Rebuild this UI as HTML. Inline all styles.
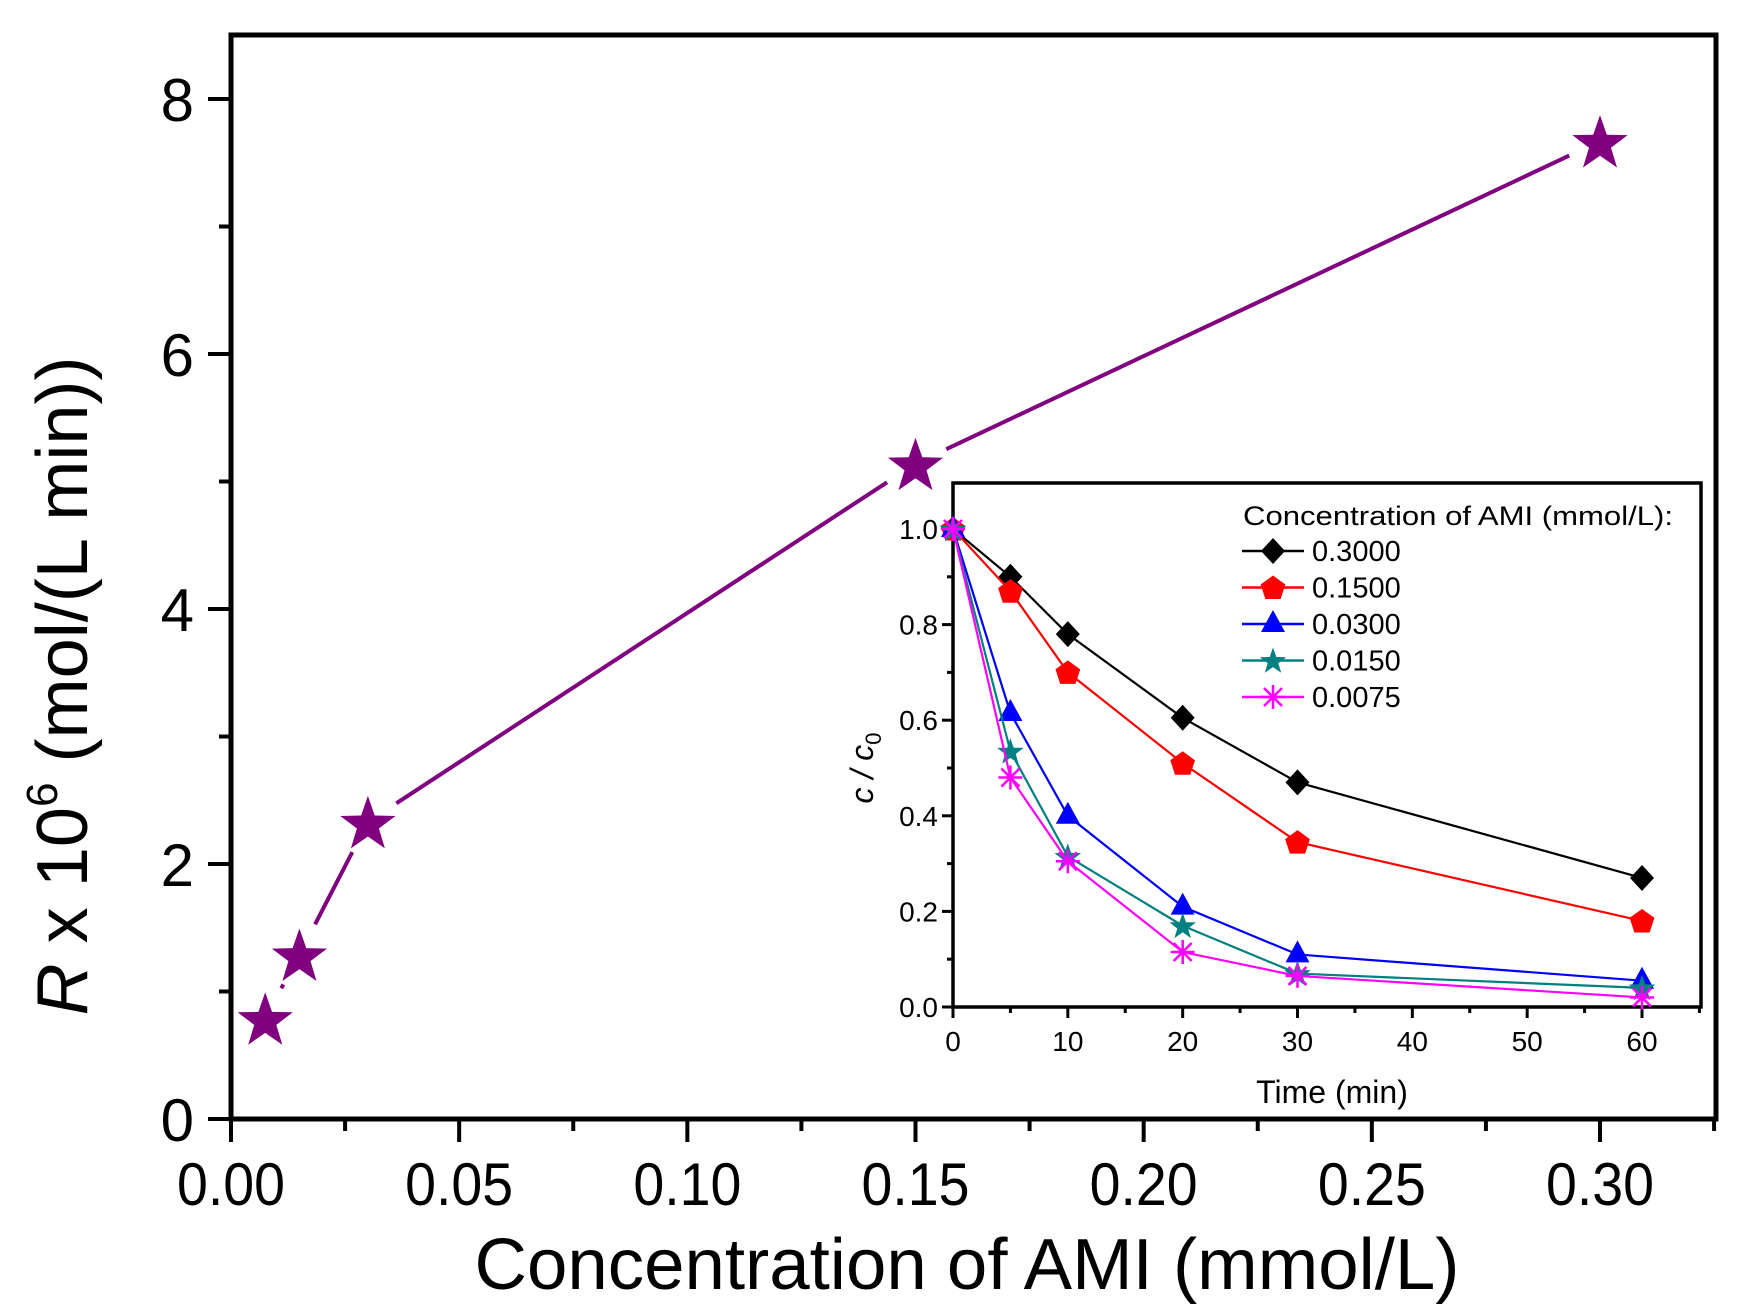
<!DOCTYPE html>
<html><head><meta charset="utf-8"><style>
html,body{margin:0;padding:0;background:#fff;}
svg{display:block;font-family:"Liberation Sans",Arial,sans-serif;}
</style></head><body>
<svg id="chart" width="1751" height="1313" viewBox="0 0 1751 1313" xmlns="http://www.w3.org/2000/svg">
<rect width="1751" height="1313" fill="#fff"/>
<g id="main"></g>
<g id="inset"></g>
</svg>
<script>
// main chart data
const mainX = [0.0075, 0.015, 0.03, 0.15, 0.30];
const mainY = [0.79, 1.29, 2.33, 5.14, 7.67];
const mainXTicks = ["0.00","0.05","0.10","0.15","0.20","0.25","0.30"];
const mainYTicks = ["0","2","4","6","8"];
// inset data
const insetT = [0, 5, 10, 20, 30, 60];
const seriesNames = ["0.3000","0.1500","0.0300","0.0150","0.0075"];
const s3000 = [1.0, 0.90, 0.78, 0.605, 0.47, 0.27];
const s1500 = [1.0, 0.87, 0.70, 0.51, 0.345, 0.18];
const s0300 = [1.0, 0.615, 0.40, 0.21, 0.11, 0.055];
const s0150 = [1.0, 0.535, 0.315, 0.17, 0.07, 0.04];
const s0075 = [1.0, 0.48, 0.305, 0.115, 0.065, 0.02];
const insetXTicks = ["0","10","20","30","40","50","60"];
const insetYTicks = ["0.0","0.2","0.4","0.6","0.8","1.0"];

const NS="http://www.w3.org/2000/svg";
function mk(parent, tag, attrs, text){
  const e=document.createElementNS(NS,tag);
  for(const k in attrs) e.setAttribute(k,attrs[k]);
  if(text!==undefined) e.textContent=text;
  parent.appendChild(e); return e;
}
function starPts(cx,cy,R){
  const r=R*0.4; let p=[];
  for(let i=0;i<10;i++){const a=-Math.PI/2+i*Math.PI/5;const rr=i%2?r:R;p.push((cx+rr*Math.cos(a)).toFixed(1)+","+(cy+rr*Math.sin(a)).toFixed(1));}
  return p.join(" ");
}

// ---------- main ----------
const M=document.getElementById('main');
const L=231,R=1716,T=35,B=1119;
const xS=v=>L+v*(1369/0.30);
const yS=v=>B-v*127.5;
for(let i=0;i<=13;i++){
  const v=i*0.025, x=xS(v); if(x>R) break;
  const t=mk(M,'line',{x1:x,y1:B,x2:x,y2:B+(i%2?12:23),stroke:'#000','stroke-width':4});
  
  
}
mainXTicks.forEach((s,i)=>{
  const t=mk(M,'text',{x:xS(i*0.05),y:1205,'font-size':60,'text-anchor':'middle',textLength:108,lengthAdjust:'spacingAndGlyphs'},s);
  
  
});
for(let v=0;v<=8;v++){
  const y=yS(v);
  const t=mk(M,'line',{x1:L,y1:y,x2:L-(v%2?12:23),y2:y,stroke:'#000','stroke-width':4});
  
  
}
mainYTicks.forEach((s,i)=>{
  const t=mk(M,'text',{x:194,y:yS(i*2)+22,'font-size':60,'text-anchor':'end'},s);
  
  
});
const fr=mk(M,'rect',{x:L,y:T,width:R-L,height:B-T,fill:'none',stroke:'#000','stroke-width':5});


for(let i=0;i<mainX.length-1;i++){
  const x1=xS(mainX[i]),y1=yS(mainY[i]),x2=xS(mainX[i+1]),y2=yS(mainY[i+1]);
  const d=Math.hypot(x2-x1,y2-y1),g=34;
  if(d<2*g) continue;
  const ux=(x2-x1)/d,uy=(y2-y1)/d;
  const s=mk(M,'line',{x1:x1+ux*g,y1:y1+uy*g,x2:x2-ux*g,y2:y2-uy*g,stroke:'#800080','stroke-width':4});
  
  
}
mainX.forEach((v,i)=>{
  const p=mk(M,'polygon',{points:starPts(xS(v),yS(mainY[i])+3,29),fill:'#800080'});
  
  
});
const xt=mk(M,'text',{x:967,y:1289,'font-size':72,'text-anchor':'middle',textLength:985,lengthAdjust:'spacingAndGlyphs'},'Concentration of AMI (mmol/L)');


const yt=mk(M,'text',{transform:'translate(87,686) rotate(-90)','font-size':72,'text-anchor':'middle',textLength:659,lengthAdjust:'spacingAndGlyphs'});


yt.innerHTML='<tspan font-style="italic">R</tspan> x 10<tspan dy="-30" font-size="44">6</tspan><tspan dy="30"> (mol/(L min))</tspan>';

// ---------- inset ----------
const I=document.getElementById('inset');
const iL=953,iR=1701,iT=483,iB=1007;
const ixS=v=>iL+v*(689/60);
const iyS=v=>iB-v*(478/1.0);
mk(I,'rect',{x:iL-8,y:iT-4,width:iR-iL+16,height:iB-iT+60,fill:'#fff'});
for(let v=0;v<=65;v+=5){
  const t=mk(I,'line',{x1:ixS(v),y1:iB,x2:ixS(v),y2:iB+(v%10?6:11),stroke:'#000','stroke-width':3});
  
  
}
insetXTicks.forEach((s,i)=>{
  const t=mk(I,'text',{x:ixS(i*10),y:1051,'font-size':28,'text-anchor':'middle'},s);
  
  
});
for(let k=0;k<=10;k++){
  const v=k*0.1;
  const t=mk(I,'line',{x1:iL,y1:iyS(v),x2:iL-(k%2?6:11),y2:iyS(v),stroke:'#000','stroke-width':3});
  
  
}
insetYTicks.forEach((s,i)=>{
  const t=mk(I,'text',{x:938,y:iyS(i*0.2)+10,'font-size':28,'text-anchor':'end'},s);
  
  
});
const ifr=mk(I,'rect',{x:iL,y:iT,width:iR-iL,height:iB-iT,fill:'none',stroke:'#000','stroke-width':3.5});


const ixt=mk(I,'text',{x:1332,y:1103,'font-size':32,'text-anchor':'middle'},'Time (min)');


const iyt=mk(I,'text',{transform:'translate(873,768) rotate(-90)','font-size':32,'text-anchor':'middle','font-style':'italic'});


iyt.innerHTML='c / c<tspan dy="8" font-size="22" font-style="normal">0</tspan>';

const allSeries=[s3000,s1500,s0300,s0150,s0075];
const colors=['#000000','#ff0000','#0000ff','#008080','#ff00ff'];
const markers=['diamond','pentagon','triangle','star','asterisk'];
function marker(g,type,cx,cy,c){
  let e;
  if(type==='diamond') e=mk(g,'polygon',{points:`${cx},${cy-13} ${cx+12},${cy} ${cx},${cy+13} ${cx-12},${cy}`,fill:c});
  else if(type==='pentagon'){let p=[];for(let i=0;i<5;i++){const a=-Math.PI/2+i*2*Math.PI/5;p.push((cx+13*Math.cos(a)).toFixed(1)+','+(cy+1+13*Math.sin(a)).toFixed(1));}e=mk(g,'polygon',{points:p.join(' '),fill:c});}
  else if(type==='triangle') e=mk(g,'polygon',{points:`${cx},${cy-14} ${cx+12},${cy+8} ${cx-12},${cy+8}`,fill:c});
  else if(type==='star') e=mk(g,'polygon',{points:starPts(cx,cy+1,14),fill:c});
  else {e=mk(g,'path',{d:`M${cx-12},${cy}H${cx+12}M${cx},${cy-12}V${cy+12}M${cx-9},${cy-9}L${cx+9},${cy+9}M${cx-9},${cy+9}L${cx+9},${cy-9}`,stroke:c,'stroke-width':2.5,fill:'none'});}
  return e;
}
allSeries.forEach((arr,si)=>{
  const g=mk(I,'g',{});
  
  
  const pl=mk(g,'polyline',{points:arr.map((v,i)=>ixS(insetT[i])+','+iyS(v)).join(' '),fill:'none',stroke:colors[si],'stroke-width':2.2});
  
  
  arr.forEach((v,i)=>{
    const m=marker(g,markers[si],ixS(insetT[i]),iyS(v),colors[si]);
    
    
  });
});
const lg=mk(I,'g',{});


const lt=mk(lg,'text',{x:1243,y:525,'font-size':27,textLength:430,lengthAdjust:'spacingAndGlyphs'},'Concentration of AMI (mmol/L):');


seriesNames.forEach((n,si)=>{
  const y=551+si*36.5;
  const e=mk(lg,'g',{});
  
  
  mk(e,'line',{x1:1242,y1:y,x2:1304,y2:y,stroke:colors[si],'stroke-width':2.5});
  marker(e,markers[si],1273,y,colors[si]);
  mk(e,'text',{x:1312,y:y+10,'font-size':29},n);
});
</script>
</body></html>
